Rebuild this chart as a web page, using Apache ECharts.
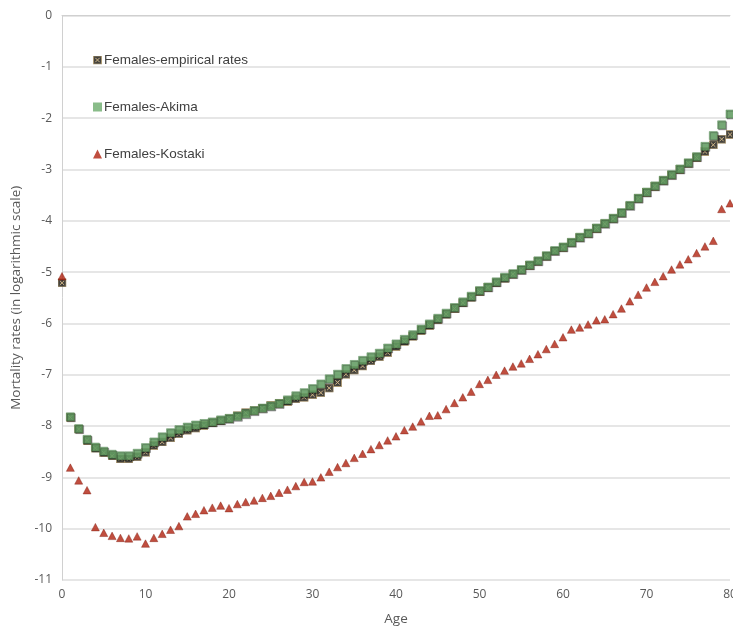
<!DOCTYPE html>
<html><head><meta charset="utf-8">
<script src="https://cdn.jsdelivr.net/npm/echarts@6/dist/echarts.min.js"></script>
<style>html,body{margin:0;padding:0;background:#fff;overflow:hidden}#c{width:733px;height:631px}</style>
</head><body><div id="c"></div>
<script>
const ages = Array.from({length: 81}, (_, i) => i);
const xTicks = [0, 10, 20, 30, 40, 50, 60, 70, 80];
const yTicks = [0, -1, -2, -3, -4, -5, -6, -7, -8, -9, -10, -11];
const seriesNames = ['Females-empirical rates', 'Females-Akima', 'Females-Kostaki'];

const empirical = [-5.21,
 -7.83, -8.06, -8.28, -8.43, -8.52, -8.58, -8.64, -8.64, -8.60, -8.51,
 -8.38, -8.31, -8.23, -8.15, -8.08, -8.04, -7.99, -7.94, -7.90, -7.86,
 -7.80, -7.74, -7.70, -7.65, -7.60, -7.56, -7.52, -7.47, -7.44, -7.39,
 -7.35, -7.26, -7.15, -6.99, -6.91, -6.83, -6.73, -6.65, -6.57, -6.45,
 -6.35, -6.25, -6.14, -6.04, -5.93, -5.82, -5.71, -5.60, -5.49, -5.38,
 -5.30, -5.21, -5.12, -5.04, -4.96, -4.87, -4.79, -4.69, -4.59, -4.52,
 -4.43, -4.33, -4.25, -4.15, -4.06, -3.96, -3.85, -3.71, -3.57, -3.45,
 -3.33, -3.22, -3.11, -3.00, -2.88, -2.77, -2.65, -2.52, -2.41, -2.32];

const akima = [null,
 -7.82, -8.05, -8.26, -8.41, -8.49, -8.55, -8.58, -8.58, -8.53, -8.42,
 -8.31, -8.21, -8.13, -8.07, -8.02, -7.98, -7.95, -7.92, -7.88, -7.85,
 -7.81, -7.76, -7.70, -7.65, -7.61, -7.56, -7.49, -7.41, -7.35, -7.27,
 -7.18, -7.08, -6.99, -6.88, -6.80, -6.72, -6.65, -6.58, -6.48, -6.40,
 -6.31, -6.22, -6.11, -6.01, -5.90, -5.80, -5.69, -5.58, -5.47, -5.36,
 -5.29, -5.19, -5.10, -5.03, -4.95, -4.86, -4.78, -4.68, -4.58, -4.51,
 -4.42, -4.32, -4.24, -4.14, -4.05, -3.95, -3.84, -3.70, -3.56, -3.44,
 -3.32, -3.21, -3.10, -2.99, -2.87, -2.75, -2.55, -2.34, -2.13, -1.92];

const kostaki = [-5.08,
 -8.81, -9.06, -9.25, -9.97, -10.08, -10.14, -10.18, -10.19, -10.15, -10.29,
 -10.18, -10.10, -10.02, -9.95, -9.76, -9.71, -9.64, -9.59, -9.55, -9.60,
 -9.52, -9.48, -9.45, -9.40, -9.36, -9.30, -9.24, -9.17, -9.09, -9.08,
 -9.00, -8.89, -8.80, -8.72, -8.62, -8.54, -8.45, -8.37, -8.28, -8.20,
 -8.08, -8.01, -7.91, -7.80, -7.79, -7.67, -7.55, -7.44, -7.33, -7.18,
 -7.10, -7.00, -6.92, -6.84, -6.78, -6.69, -6.60, -6.50, -6.40, -6.27,
 -6.12, -6.08, -6.02, -5.94, -5.92, -5.82, -5.71, -5.57, -5.44, -5.30,
 -5.19, -5.08, -4.95, -4.85, -4.75, -4.63, -4.50, -4.39, -3.77, -3.66];

const empSvg = "<svg xmlns='http://www.w3.org/2000/svg' width='10' height='10'>" +
  "<rect x='0.5' y='0.5' width='9' height='9' fill='#17150f' stroke='#9c8250' stroke-width='1'/>" +
  "<path d='M2.6 2.6L7.4 7.4M7.4 2.6L2.6 7.4' stroke='#c8a66a' stroke-width='1.1'/></svg>";
const empSymbol = 'image://data:image/svg+xml;charset=utf-8,' + encodeURIComponent(empSvg);

const pair = arr => ages.map((a, i) => [a, arr[i]]).filter(p => p[1] !== null);

const chart = echarts.init(document.getElementById('c'), null, {renderer: 'canvas'});
const axisFont = {color: '#595959', fontSize: 12, fontFamily: 'Open Sans, Liberation Sans, sans-serif'};
chart.setOption({
  animation: false,
  backgroundColor: '#ffffff',
  grid: {left: 62, right: 3, top: 15.5, bottom: 51, containLabel: false, outerBoundsMode: 'none'},
  legend: {
    orient: 'vertical', left: 88, top: 48, itemGap: 33, itemWidth: 9, itemHeight: 9,
    textStyle: {color: '#404040', fontSize: 13.5, fontFamily: 'Liberation Sans, Arial, sans-serif', padding: [0, 0, 0, -3]},
    data: [
      {name: seriesNames[0], icon: empSymbol},
      {name: seriesNames[1], icon: 'rect', itemStyle: {color: '#6cab6c', borderWidth: 0}},
      {name: seriesNames[2], icon: 'triangle', itemStyle: {color: '#b0220f', borderWidth: 0}}
    ]
  },
  xAxis: {
    type: 'value', min: 0, max: 80, interval: 10,
    name: 'Age', nameLocation: 'middle', nameGap: 32,
    nameTextStyle: {color: '#595959', fontSize: 13.5, fontFamily: 'Open Sans, Liberation Sans, sans-serif'},
    axisLine: {show: true, lineStyle: {color: '#d0d0d0', width: 1}},
    axisTick: {show: false},
    axisLabel: Object.assign({margin: 9, formatter: v => xTicks.includes(v) ? String(v) : ''}, axisFont),
    splitLine: {show: false}
  },
  yAxis: {
    type: 'value', min: -11, max: 0, interval: 1,
    name: 'Mortality rates (in logarithmic scale)', nameLocation: 'middle', nameGap: 33,
    nameTextStyle: {color: '#595959', fontSize: 13.5, fontFamily: 'Open Sans, Liberation Sans, sans-serif'},
    axisLine: {show: true, lineStyle: {color: '#d0d0d0', width: 1}},
    axisTick: {show: false},
    axisLabel: Object.assign({margin: 10, formatter: v => yTicks.includes(v) ? String(v) : ''}, axisFont),
    splitLine: {show: true, lineStyle: {color: '#dedede', width: 1.5}}
  },
  series: [
    {name: seriesNames[0], type: 'scatter', data: pair(empirical), symbol: empSymbol, symbolSize: 9, z: 2},
    {name: seriesNames[1], type: 'scatter', data: pair(akima), symbol: 'rect', symbolSize: 8, z: 3,
      itemStyle: {color: '#6cab6c', borderColor: '#4a7a4a', borderWidth: 0.6,
        shadowColor: 'rgba(0,0,0,0.5)', shadowOffsetX: 1, shadowOffsetY: 1, shadowBlur: 0}},
    {name: seriesNames[2], type: 'scatter', data: pair(kostaki), symbol: 'triangle', symbolSize: [8, 7.5], z: 4,
      itemStyle: {color: '#b0220f', borderColor: '#7d170a', borderWidth: 0.5}}
  ]
});
</script>
</body></html>
